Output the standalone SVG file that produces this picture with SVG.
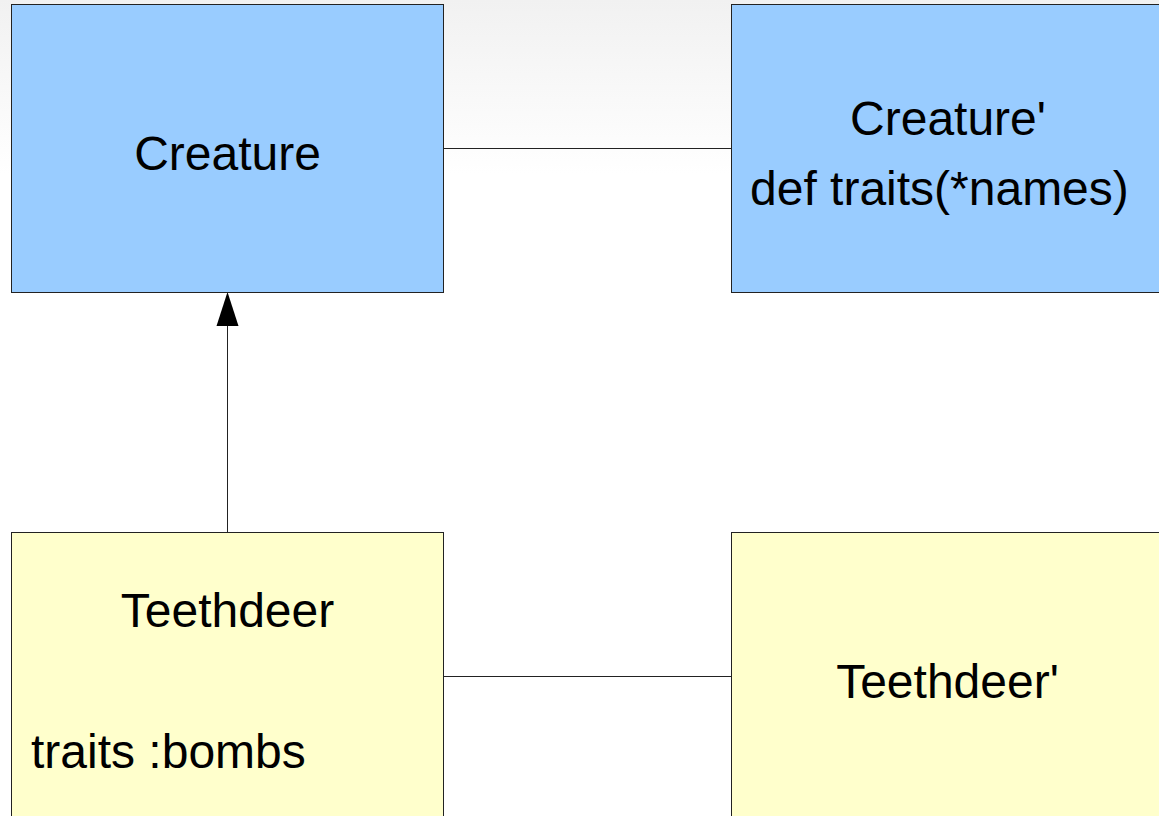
<svg xmlns="http://www.w3.org/2000/svg" width="1159" height="816" viewBox="0 0 1159 816">
<defs>
<linearGradient id="bg" x1="0" y1="0" x2="0" y2="1">
<stop offset="0" stop-color="#f1f1f1"/>
<stop offset="1" stop-color="#ffffff"/>
</linearGradient>
</defs>
<style>
.blue{fill:#99ccff;stroke:#222;stroke-width:1}
.yellow{fill:#ffffcc;stroke:#222;stroke-width:1}
.t{font-family:"Liberation Sans",Arial,sans-serif;font-size:48px;fill:#000}
.c{text-anchor:middle}
.edge{stroke:#222;stroke-width:1;fill:none}
</style>
<rect x="0" y="0" width="1159" height="816" fill="#fff"/>
<rect x="0" y="0" width="1159" height="175" fill="url(#bg)"/>
<g id="connectors">
<line class="edge" x1="443" y1="148.5" x2="731" y2="148.5"/>
<line class="edge" x1="443" y1="676.5" x2="731" y2="676.5"/>
<path class="edge" d="M227.5 532 L227.5 326"/>
<path d="M227.5 292 L238.5 326 L216.5 326 Z" fill="#000"/>
</g>
<g id="creature">
<rect class="blue" x="11.5" y="4.5" width="432" height="288"/>
<text class="t c" x="227.5" y="170">Creature</text>
</g>
<g id="creature-prime">
<rect class="blue" x="731.5" y="4.5" width="434" height="288"/>
<text class="t c" x="948" y="135">Creature'</text>
<text class="t" x="750" y="205">def traits(*names)</text>
</g>
<g id="teethdeer">
<rect class="yellow" x="11.5" y="532.5" width="432" height="290"/>
<text class="t c" x="227.5" y="627">Teethdeer</text>
<text class="t" x="31" y="768">traits :bombs</text>
</g>
<g id="teethdeer-prime">
<rect class="yellow" x="731.5" y="532.5" width="434" height="290"/>
<text class="t c" x="947.5" y="698">Teethdeer'</text>
</g>
</svg>
